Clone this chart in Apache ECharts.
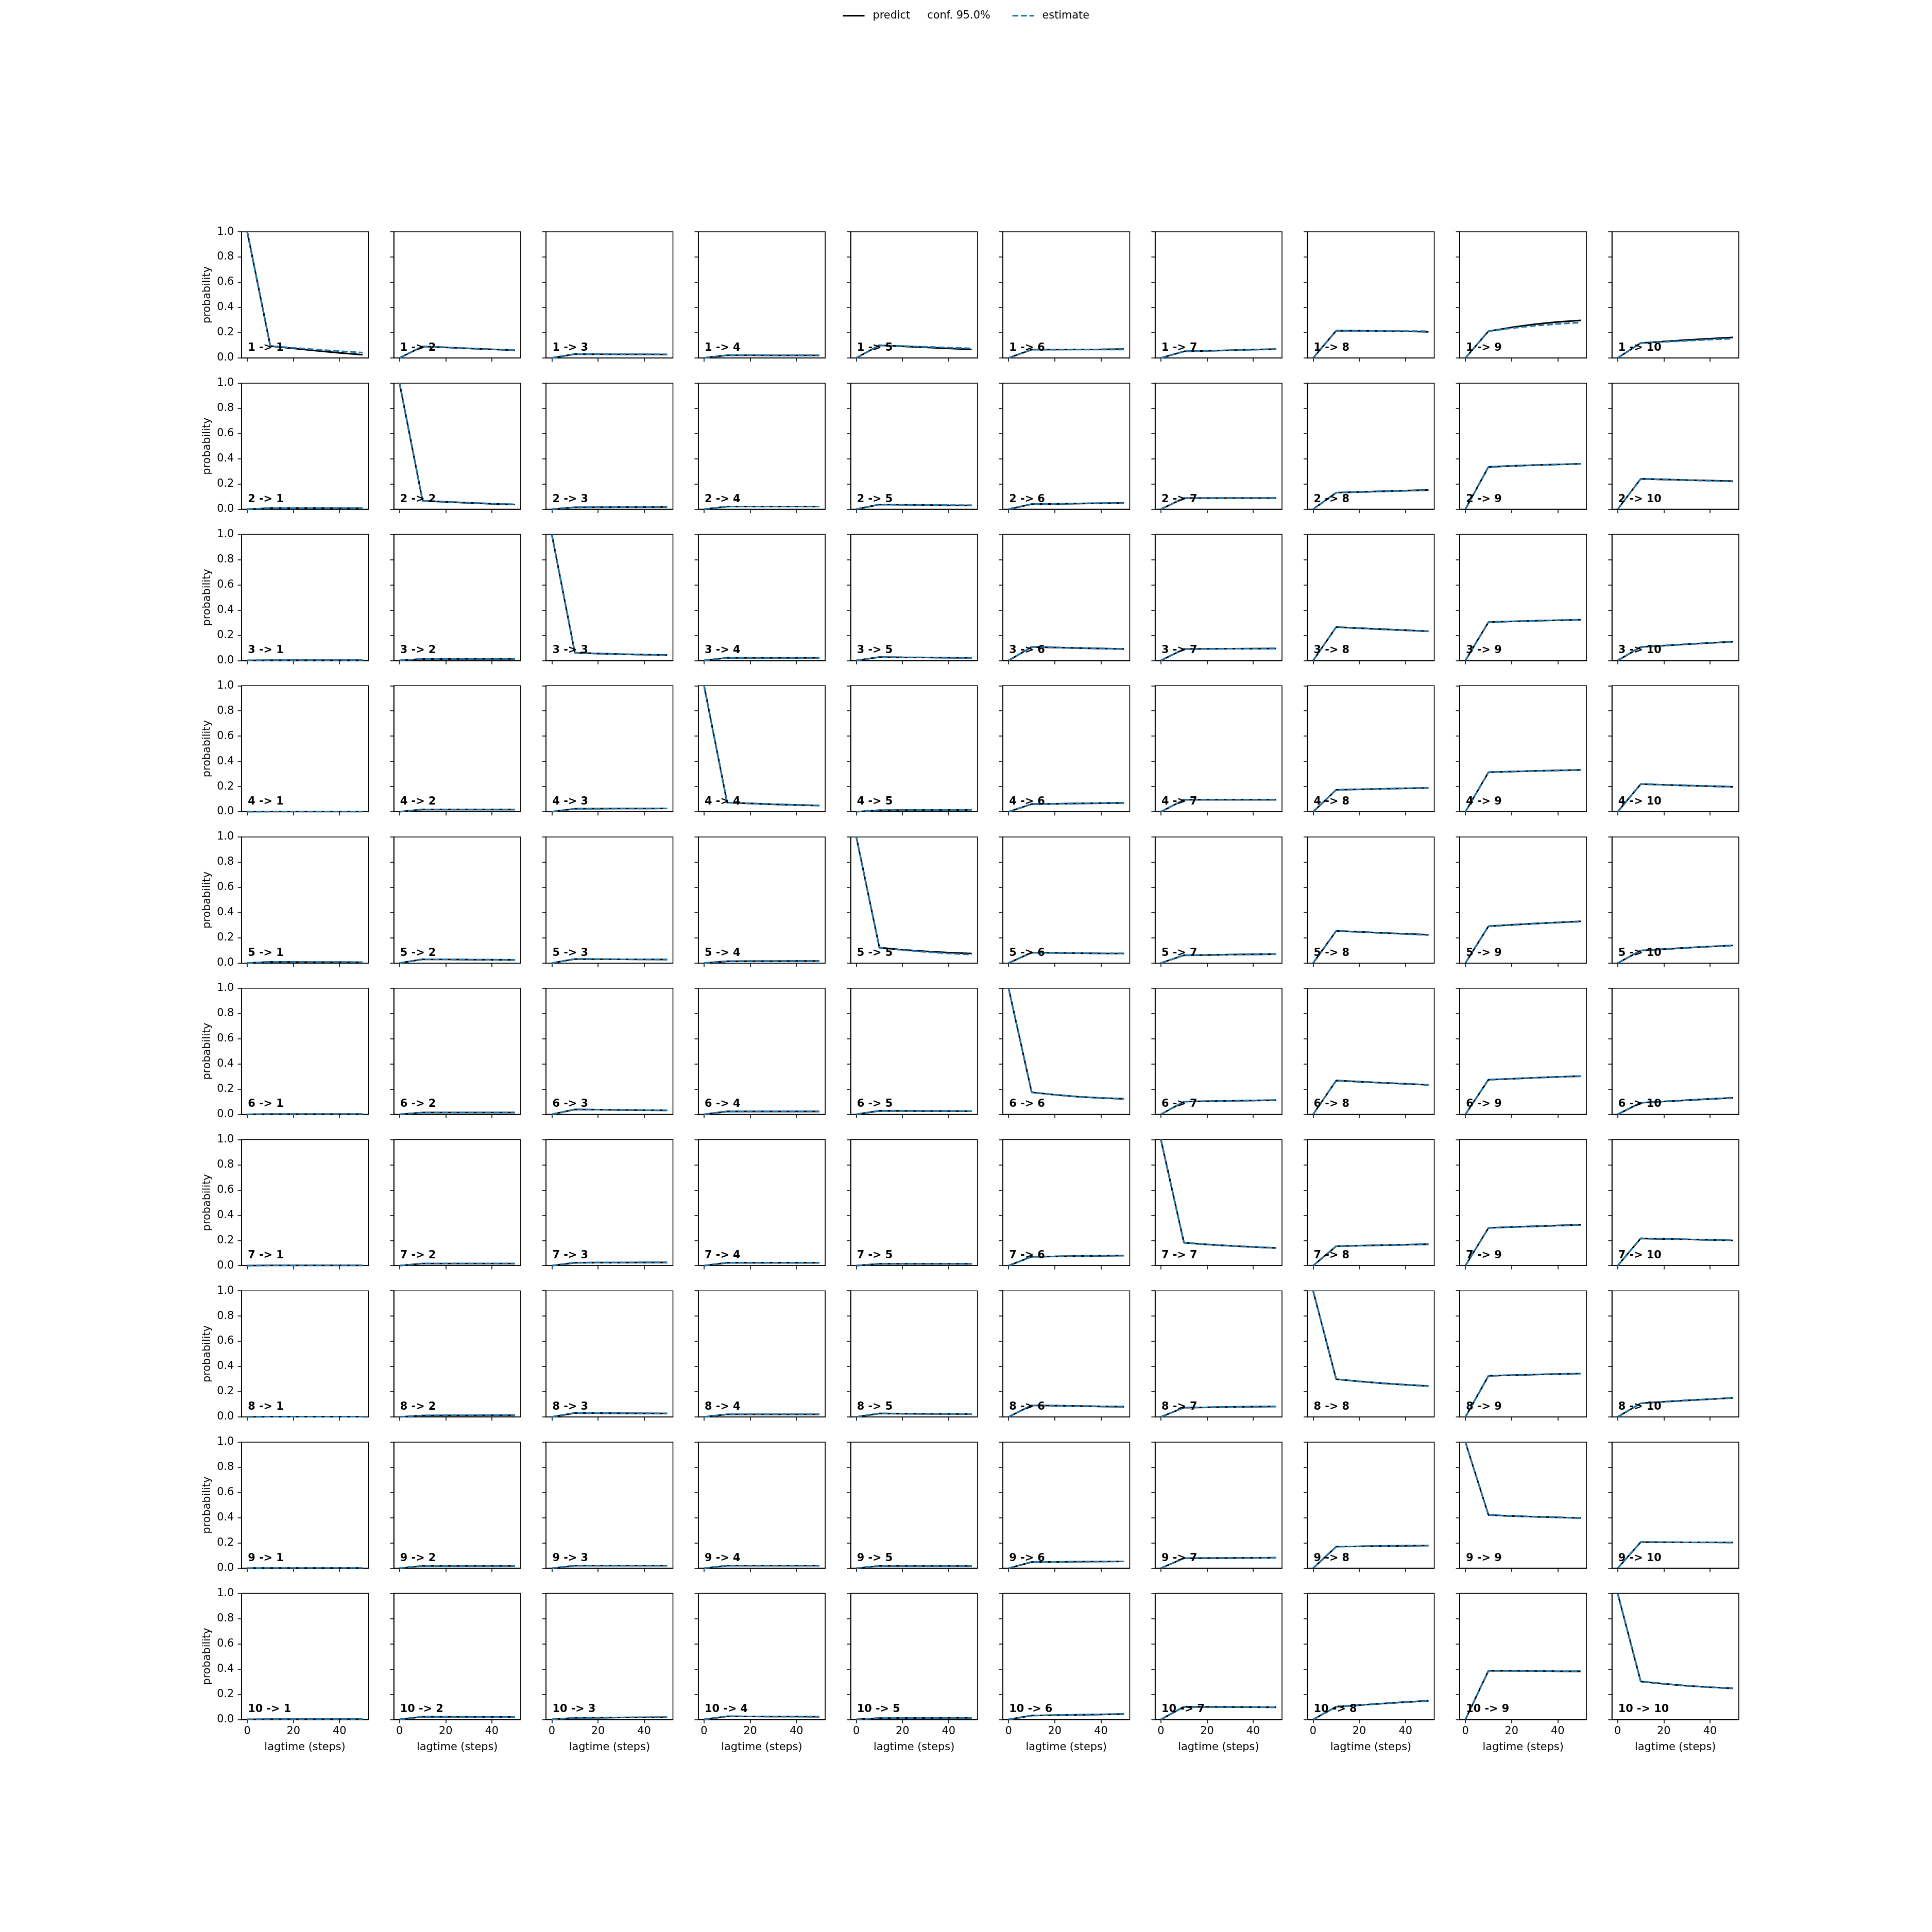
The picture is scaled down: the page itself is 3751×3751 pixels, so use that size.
<!DOCTYPE html>
<html><head><meta charset="utf-8">
<script src="https://cdn.jsdelivr.net/npm/echarts@6/dist/echarts.min.js"></script>
<style>html,body{margin:0;padding:0;background:#fff}#chart{width:3751px;height:3751px}</style>
</head><body><div id="chart"></div>
<script>
// ---------------- data ----------------
const lagtimes = [0, 10, 20, 30, 40, 50];
const states = ['1','2','3','4','5','6','7','8','9','10'];
const xTickValues = [0, 20, 40];
const yTickValues = [0, 0.2, 0.4, 0.6, 0.8, 1.0];
const legendLabels = ['predict', 'estimate'];
const confLabel = 'conf. 95.0%';

// predictions: row = from-state, each entry = to-state 1..10, values at lagtimes
const predictFrom1 = [
  [1.0, 0.094, 0.075, 0.057, 0.040, 0.025],
  [0, 0.091, 0.083, 0.075, 0.068, 0.061],
  [0, 0.030, 0.029, 0.028, 0.028, 0.027],
  [0, 0.021, 0.021, 0.020, 0.020, 0.020],
  [0, 0.100, 0.092, 0.084, 0.075, 0.067],
  [0, 0.066, 0.066, 0.067, 0.068, 0.070],
  [0, 0.052, 0.056, 0.061, 0.066, 0.070],
  [0, 0.216, 0.215, 0.213, 0.211, 0.207],
  [0, 0.212, 0.242, 0.267, 0.285, 0.298],
  [0, 0.118, 0.130, 0.142, 0.153, 0.163]
];
const predictFrom2 = [
  [0, 0.008, 0.008, 0.008, 0.007, 0.007],
  [1.0, 0.067, 0.058, 0.050, 0.043, 0.037],
  [0, 0.015, 0.016, 0.017, 0.017, 0.018],
  [0, 0.021, 0.021, 0.021, 0.021, 0.021],
  [0, 0.037, 0.035, 0.033, 0.031, 0.030],
  [0, 0.040, 0.042, 0.045, 0.047, 0.049],
  [0, 0.088, 0.088, 0.088, 0.088, 0.088],
  [0, 0.131, 0.137, 0.142, 0.147, 0.152],
  [0, 0.335, 0.343, 0.350, 0.355, 0.360],
  [0, 0.241, 0.236, 0.231, 0.227, 0.223]
];
const predictFrom3 = [
  [0, 0.002, 0.002, 0.002, 0.002, 0.002],
  [0, 0.012, 0.012, 0.013, 0.013, 0.013],
  [1.0, 0.061, 0.055, 0.050, 0.046, 0.043],
  [0, 0.021, 0.021, 0.021, 0.021, 0.021],
  [0, 0.027, 0.025, 0.024, 0.022, 0.021],
  [0, 0.107, 0.103, 0.099, 0.095, 0.091],
  [0, 0.091, 0.092, 0.093, 0.094, 0.095],
  [0, 0.265, 0.256, 0.248, 0.240, 0.232],
  [0, 0.305, 0.310, 0.315, 0.319, 0.323],
  [0, 0.107, 0.118, 0.129, 0.139, 0.149]
];
const predictFrom4 = [
  [0, 0.001, 0.001, 0.001, 0.001, 0.001],
  [0, 0.018, 0.018, 0.018, 0.018, 0.018],
  [0, 0.024, 0.025, 0.026, 0.026, 0.027],
  [1.0, 0.073, 0.066, 0.059, 0.054, 0.049],
  [0, 0.012, 0.013, 0.014, 0.014, 0.015],
  [0, 0.061, 0.063, 0.066, 0.068, 0.070],
  [0, 0.095, 0.095, 0.095, 0.095, 0.095],
  [0, 0.174, 0.178, 0.182, 0.186, 0.189],
  [0, 0.314, 0.319, 0.324, 0.328, 0.332],
  [0, 0.220, 0.214, 0.208, 0.203, 0.198]
];
const predictFrom5 = [
  [0, 0.009, 0.008, 0.007, 0.007, 0.006],
  [0, 0.030, 0.029, 0.027, 0.026, 0.025],
  [0, 0.032, 0.031, 0.030, 0.029, 0.028],
  [0, 0.014, 0.015, 0.015, 0.016, 0.016],
  [1.0, 0.122, 0.105, 0.093, 0.083, 0.076],
  [0, 0.083, 0.081, 0.079, 0.077, 0.076],
  [0, 0.062, 0.064, 0.067, 0.069, 0.071],
  [0, 0.255, 0.247, 0.239, 0.232, 0.225],
  [0, 0.292, 0.303, 0.313, 0.322, 0.331],
  [0, 0.099, 0.110, 0.121, 0.131, 0.140]
];
const predictFrom6 = [
  [0, 0.002, 0.002, 0.002, 0.002, 0.002],
  [0, 0.014, 0.014, 0.014, 0.014, 0.014],
  [0, 0.039, 0.037, 0.035, 0.033, 0.032],
  [0, 0.023, 0.023, 0.023, 0.023, 0.023],
  [0, 0.028, 0.027, 0.026, 0.026, 0.025],
  [1.0, 0.175, 0.155, 0.140, 0.130, 0.123],
  [0, 0.101, 0.104, 0.107, 0.110, 0.112],
  [0, 0.268, 0.259, 0.250, 0.242, 0.234],
  [0, 0.275, 0.282, 0.290, 0.297, 0.303],
  [0, 0.092, 0.102, 0.112, 0.122, 0.131]
];
const predictFrom7 = [
  [0, 0.002, 0.002, 0.002, 0.002, 0.002],
  [0, 0.016, 0.016, 0.016, 0.016, 0.016],
  [0, 0.023, 0.024, 0.024, 0.025, 0.025],
  [0, 0.023, 0.023, 0.023, 0.023, 0.023],
  [0, 0.014, 0.014, 0.014, 0.014, 0.014],
  [0, 0.071, 0.073, 0.076, 0.078, 0.080],
  [1.0, 0.182, 0.168, 0.157, 0.148, 0.140],
  [0, 0.154, 0.158, 0.162, 0.166, 0.170],
  [0, 0.299, 0.306, 0.312, 0.318, 0.324],
  [0, 0.216, 0.212, 0.208, 0.204, 0.200]
];
const predictFrom8 = [
  [0, 0.002, 0.002, 0.002, 0.002, 0.002],
  [0, 0.011, 0.012, 0.012, 0.013, 0.013],
  [0, 0.031, 0.030, 0.029, 0.028, 0.027],
  [0, 0.020, 0.020, 0.020, 0.020, 0.020],
  [0, 0.027, 0.026, 0.024, 0.023, 0.022],
  [0, 0.092, 0.089, 0.086, 0.083, 0.081],
  [0, 0.074, 0.076, 0.079, 0.081, 0.083],
  [1.0, 0.299, 0.282, 0.267, 0.255, 0.245],
  [0, 0.326, 0.331, 0.336, 0.340, 0.344],
  [0, 0.108, 0.120, 0.131, 0.141, 0.151]
];
const predictFrom9 = [
  [0, 0.002, 0.002, 0.002, 0.002, 0.002],
  [0, 0.018, 0.018, 0.018, 0.018, 0.018],
  [0, 0.020, 0.020, 0.020, 0.020, 0.020],
  [0, 0.020, 0.020, 0.020, 0.020, 0.020],
  [0, 0.018, 0.018, 0.018, 0.018, 0.018],
  [0, 0.049, 0.050, 0.052, 0.053, 0.054],
  [0, 0.079, 0.080, 0.081, 0.082, 0.083],
  [0, 0.171, 0.173, 0.176, 0.178, 0.180],
  [1.0, 0.422, 0.414, 0.408, 0.403, 0.398],
  [0, 0.207, 0.206, 0.205, 0.205, 0.204]
];
const predictFrom10 = [
  [0, 0.002, 0.002, 0.002, 0.002, 0.002],
  [0, 0.022, 0.021, 0.021, 0.020, 0.020],
  [0, 0.013, 0.014, 0.016, 0.017, 0.018],
  [0, 0.025, 0.024, 0.023, 0.023, 0.022],
  [0, 0.011, 0.012, 0.012, 0.013, 0.013],
  [0, 0.031, 0.034, 0.037, 0.040, 0.043],
  [0, 0.101, 0.100, 0.099, 0.098, 0.097],
  [0, 0.101, 0.114, 0.126, 0.138, 0.148],
  [0, 0.387, 0.386, 0.385, 0.383, 0.382],
  [1.0, 0.301, 0.283, 0.267, 0.256, 0.247]
];

// estimates
const estimateFrom1 = [
  [1.0, 0.094, 0.080, 0.066, 0.054, 0.042],
  [0, 0.091, 0.084, 0.076, 0.068, 0.062],
  [0, 0.030, 0.029, 0.029, 0.028, 0.028],
  [0, 0.021, 0.021, 0.020, 0.020, 0.020],
  [0, 0.100, 0.094, 0.088, 0.082, 0.076],
  [0, 0.066, 0.066, 0.066, 0.066, 0.066],
  [0, 0.052, 0.056, 0.060, 0.065, 0.069],
  [0, 0.216, 0.215, 0.214, 0.213, 0.212],
  [0, 0.212, 0.236, 0.255, 0.269, 0.281],
  [0, 0.118, 0.127, 0.136, 0.145, 0.153]
];
const estimateFrom2 = [
  [0, 0.008, 0.008, 0.008, 0.007, 0.007],
  [1.0, 0.067, 0.058, 0.051, 0.044, 0.038],
  [0, 0.015, 0.016, 0.017, 0.017, 0.018],
  [0, 0.021, 0.021, 0.021, 0.021, 0.021],
  [0, 0.037, 0.035, 0.033, 0.032, 0.031],
  [0, 0.040, 0.042, 0.045, 0.047, 0.048],
  [0, 0.088, 0.088, 0.088, 0.088, 0.088],
  [0, 0.131, 0.136, 0.141, 0.146, 0.150],
  [0, 0.335, 0.343, 0.349, 0.355, 0.359],
  [0, 0.241, 0.235, 0.230, 0.225, 0.220]
];
const estimateFrom3 = [
  [0, 0.002, 0.002, 0.002, 0.002, 0.002],
  [0, 0.012, 0.012, 0.013, 0.013, 0.013],
  [1.0, 0.061, 0.055, 0.050, 0.046, 0.042],
  [0, 0.021, 0.021, 0.021, 0.021, 0.021],
  [0, 0.027, 0.025, 0.024, 0.022, 0.021],
  [0, 0.107, 0.103, 0.099, 0.095, 0.091],
  [0, 0.091, 0.092, 0.093, 0.094, 0.095],
  [0, 0.265, 0.256, 0.247, 0.239, 0.231],
  [0, 0.305, 0.310, 0.315, 0.319, 0.323],
  [0, 0.107, 0.118, 0.129, 0.139, 0.148]
];
const estimateFrom4 = [
  [0, 0.001, 0.001, 0.001, 0.001, 0.001],
  [0, 0.018, 0.018, 0.018, 0.018, 0.018],
  [0, 0.024, 0.025, 0.026, 0.026, 0.027],
  [1.0, 0.073, 0.066, 0.060, 0.055, 0.050],
  [0, 0.012, 0.013, 0.014, 0.014, 0.015],
  [0, 0.061, 0.063, 0.066, 0.068, 0.070],
  [0, 0.095, 0.095, 0.095, 0.095, 0.095],
  [0, 0.174, 0.178, 0.182, 0.186, 0.190],
  [0, 0.314, 0.319, 0.323, 0.327, 0.330],
  [0, 0.220, 0.214, 0.208, 0.203, 0.198]
];
const estimateFrom5 = [
  [0, 0.009, 0.008, 0.007, 0.007, 0.006],
  [0, 0.030, 0.029, 0.027, 0.026, 0.025],
  [0, 0.032, 0.031, 0.030, 0.029, 0.028],
  [0, 0.014, 0.015, 0.015, 0.016, 0.016],
  [1.0, 0.122, 0.103, 0.088, 0.076, 0.067],
  [0, 0.083, 0.081, 0.079, 0.077, 0.076],
  [0, 0.062, 0.064, 0.067, 0.069, 0.071],
  [0, 0.255, 0.247, 0.238, 0.230, 0.222],
  [0, 0.292, 0.303, 0.313, 0.321, 0.328],
  [0, 0.099, 0.110, 0.121, 0.131, 0.139]
];
const estimateFrom6 = [
  [0, 0.002, 0.002, 0.002, 0.002, 0.002],
  [0, 0.014, 0.014, 0.014, 0.014, 0.014],
  [0, 0.039, 0.037, 0.035, 0.033, 0.032],
  [0, 0.023, 0.023, 0.023, 0.023, 0.023],
  [0, 0.028, 0.027, 0.026, 0.026, 0.025],
  [1.0, 0.175, 0.155, 0.140, 0.130, 0.123],
  [0, 0.101, 0.104, 0.107, 0.110, 0.112],
  [0, 0.268, 0.259, 0.250, 0.242, 0.233],
  [0, 0.275, 0.282, 0.290, 0.297, 0.302],
  [0, 0.092, 0.102, 0.112, 0.122, 0.130]
];
const estimateFrom7 = [
  [0, 0.002, 0.002, 0.002, 0.002, 0.002],
  [0, 0.016, 0.016, 0.016, 0.016, 0.016],
  [0, 0.023, 0.024, 0.024, 0.025, 0.025],
  [0, 0.023, 0.023, 0.023, 0.023, 0.023],
  [0, 0.014, 0.014, 0.014, 0.014, 0.014],
  [0, 0.071, 0.073, 0.076, 0.078, 0.080],
  [1.0, 0.182, 0.168, 0.157, 0.148, 0.140],
  [0, 0.154, 0.158, 0.162, 0.166, 0.170],
  [0, 0.299, 0.306, 0.312, 0.318, 0.323],
  [0, 0.216, 0.212, 0.208, 0.204, 0.200]
];
const estimateFrom8 = [
  [0, 0.002, 0.002, 0.002, 0.002, 0.002],
  [0, 0.011, 0.012, 0.012, 0.013, 0.013],
  [0, 0.031, 0.030, 0.029, 0.028, 0.027],
  [0, 0.020, 0.020, 0.020, 0.020, 0.020],
  [0, 0.027, 0.026, 0.024, 0.023, 0.022],
  [0, 0.092, 0.089, 0.086, 0.083, 0.081],
  [0, 0.074, 0.076, 0.079, 0.081, 0.083],
  [1.0, 0.299, 0.282, 0.267, 0.255, 0.244],
  [0, 0.326, 0.331, 0.336, 0.340, 0.344],
  [0, 0.108, 0.120, 0.131, 0.141, 0.150]
];
const estimateFrom9 = [
  [0, 0.002, 0.002, 0.002, 0.002, 0.002],
  [0, 0.018, 0.018, 0.018, 0.018, 0.018],
  [0, 0.020, 0.020, 0.020, 0.020, 0.020],
  [0, 0.020, 0.020, 0.020, 0.020, 0.020],
  [0, 0.018, 0.018, 0.018, 0.018, 0.018],
  [0, 0.049, 0.050, 0.052, 0.053, 0.054],
  [0, 0.079, 0.080, 0.081, 0.082, 0.083],
  [0, 0.171, 0.173, 0.176, 0.178, 0.180],
  [1.0, 0.422, 0.414, 0.408, 0.403, 0.398],
  [0, 0.207, 0.206, 0.205, 0.204, 0.203]
];
const estimateFrom10 = [
  [0, 0.002, 0.002, 0.002, 0.002, 0.002],
  [0, 0.022, 0.021, 0.021, 0.020, 0.020],
  [0, 0.013, 0.014, 0.016, 0.017, 0.018],
  [0, 0.025, 0.024, 0.023, 0.023, 0.022],
  [0, 0.011, 0.012, 0.012, 0.013, 0.013],
  [0, 0.031, 0.034, 0.037, 0.040, 0.043],
  [0, 0.101, 0.100, 0.099, 0.098, 0.097],
  [0, 0.101, 0.114, 0.126, 0.138, 0.148],
  [0, 0.387, 0.386, 0.385, 0.383, 0.382],
  [1.0, 0.301, 0.283, 0.267, 0.256, 0.246]
];

const predictRows = [predictFrom1, predictFrom2, predictFrom3, predictFrom4, predictFrom5,
                     predictFrom6, predictFrom7, predictFrom8, predictFrom9, predictFrom10];
const estimateRows = [estimateFrom1, estimateFrom2, estimateFrom3, estimateFrom4, estimateFrom5,
                      estimateFrom6, estimateFrom7, estimateFrom8, estimateFrom9, estimateFrom10];

// ---------------- layout (matplotlib subplot params) ----------------
const FIG = 3751;
const N = states.length;
const L = 0.125 * FIG, R = 0.9 * FIG, T = 0.12 * FIG, B = 0.89 * FIG;
const W = (R - L) / (N + (N - 1) * 0.2);
const H = (B - T) / (N + (N - 1) * 0.2);
const PX = W * 1.2, PY = H * 1.2;
const FONT = '"DejaVu Sans", "Liberation Sans", sans-serif';
const FS = 20.8;
const BLUE = '#1f77b4';

const grids = [], xAxes = [], yAxes = [], series = [], graphics = [];
for (let i = 0; i < N; i++) {
  for (let j = 0; j < N; j++) {
    const k = i * N + j;
    const left = L + j * PX, top = T + i * PY;
    grids.push({ left: left, top: top, width: W, height: H, show: true,
      borderColor: '#000', borderWidth: 1.6, backgroundColor: 'transparent' });
    const bottomRow = (i === N - 1), firstCol = (j === 0);
    xAxes.push({
      gridIndex: k, type: 'value', min: -2.5, max: 52.5, position: 'bottom',
      axisLine: { show: true, onZero: false, lineStyle: { color: '#000', width: 1.6 } },
      splitLine: { show: false },
      axisTick: { show: true, customValues: xTickValues, length: 7.3, inside: false,
        lineStyle: { color: '#000', width: 1.6 } },
      axisLabel: { show: bottomRow, customValues: xTickValues, margin: 13,
        fontSize: FS, fontFamily: FONT, color: '#000' },
      name: bottomRow ? 'lagtime (steps)' : '', nameLocation: 'middle', nameGap: 44,
      nameTextStyle: { fontSize: FS, fontFamily: FONT, color: '#000', verticalAlign: 'top' }
    });
    yAxes.push({
      gridIndex: k, type: 'value', min: 0, max: 1, interval: 0.2, position: 'left',
      axisLine: { show: true, onZero: false, lineStyle: { color: '#000', width: 1.6 } },
      splitLine: { show: false },
      axisTick: { show: true, length: 7.3, lineStyle: { color: '#000', width: 1.6 } },
      axisLabel: { show: firstCol, margin: 14.6, fontSize: FS, fontFamily: FONT, color: '#000',
        formatter: v => v.toFixed(1) },
      name: firstCol ? 'probability' : '', nameLocation: 'middle', nameGap: 56,
      nameTextStyle: { fontSize: FS, fontFamily: FONT, color: '#000' }
    });
    series.push({
      type: 'line', name: legendLabels[0], xAxisIndex: k, yAxisIndex: k,
      data: lagtimes.map((t, m) => [t, predictRows[i][j][m]]),
      symbol: 'none', showSymbol: false, silent: true, z: 2,
      lineStyle: { color: '#000', width: 3.1 }, itemStyle: { color: '#000' }
    });
    series.push({
      type: 'line', name: legendLabels[1], xAxisIndex: k, yAxisIndex: k,
      data: lagtimes.map((t, m) => [t, estimateRows[i][j][m]]),
      symbol: 'none', showSymbol: false, silent: true, z: 3,
      lineStyle: { color: BLUE, width: 3.1, type: [11.6, 5] }, itemStyle: { color: BLUE }
    });
    graphics.push({
      type: 'text', z: 100, silent: true,
      x: left + 0.05 * W, y: top + H - 0.05 * H - 7.2,
      style: { text: states[i] + ' -> ' + states[j], fill: '#000',
        font: 'bold ' + FS + 'px ' + FONT, align: 'left', verticalAlign: 'middle' }
    });
  }
}

const legendCommon = {
  top: 20, padding: 0, itemWidth: 42, itemHeight: 14,
  itemStyle: { opacity: 0, borderWidth: 0 },
  textStyle: { fontSize: FS, fontFamily: FONT, color: '#000', padding: [0, 0, 0, 11] }
};

const chart = echarts.init(document.getElementById('chart'), null, { renderer: 'canvas' });
chart.setOption({
  animation: false,
  backgroundColor: '#fff',
  legend: [
    Object.assign({}, legendCommon, { data: [legendLabels[0]], left: 1635,
      lineStyle: { color: '#000', width: 3.1 },
      formatter: name => name + '     ' + confLabel }),
    Object.assign({}, legendCommon, { data: [legendLabels[1]], left: 1964,
      lineStyle: { color: BLUE, width: 3.1, type: [11.6, 5] } })
  ],
  grid: grids, xAxis: xAxes, yAxis: yAxes, series: series, graphic: graphics
});
</script></body></html>
